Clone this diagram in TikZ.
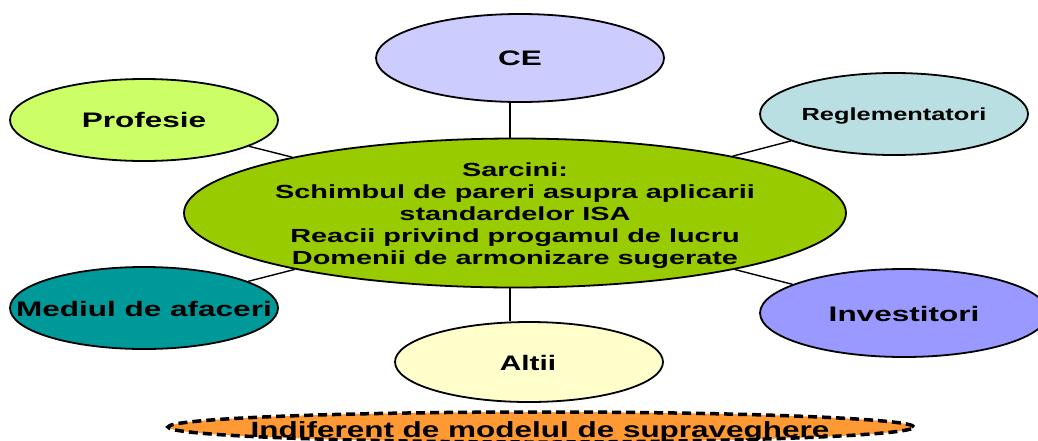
\documentclass[tikz,border=0pt]{standalone}
\usepackage{fontspec}
\setmainfont{Liberation Sans}
\usetikzlibrary{shapes.geometric}
\definecolor{ceC}{HTML}{CCCCFF}
\definecolor{profC}{HTML}{CCFF66}
\definecolor{reglC}{HTML}{B9DFE2}
\definecolor{centC}{HTML}{99CC00}
\definecolor{medC}{HTML}{009999}
\definecolor{invC}{HTML}{9999FF}
\definecolor{altC}{HTML}{FFFFCC}
\definecolor{indC}{HTML}{FF9933}
\newcommand{\hstr}[2][1.5]{\scalebox{#1}[1]{#2}}
\begin{document}
\begin{tikzpicture}[x=1pt,y=-1pt,
  bub/.style={ellipse, draw=black, line width=1.8pt, inner sep=0pt},
  lab/.style={inner sep=0pt, font=\fontsize{21}{24}\selectfont\bfseries},
  conn/.style={draw=black, line width=1.4pt}]
\useasboundingbox (0,0) rectangle (1038,440);
% ellipses
\node[bub, fill=ceC, minimum width=288, minimum height=88] (CE) at (520,58) {};
\node[bub, fill=profC, minimum width=268, minimum height=82] (prof) at (144,120) {};
\node[bub, fill=reglC, minimum width=268, minimum height=82] (regl) at (894,114) {};
\node[bub, fill=centC, minimum width=662, minimum height=149] (cent) at (515,213) {};
\node[bub, fill=medC, minimum width=268, minimum height=82] (med) at (144,308) {};
\node[bub, fill=invC, minimum width=288, minimum height=88] (inv) at (904,313) {};
\node[bub, fill=altC, minimum width=268, minimum height=80] (alt) at (529,362) {};
\node[bub, fill=indC, line width=3.5pt, dash pattern=on 9pt off 5pt, minimum width=746, minimum height=30] (ind) at (541,427) {};
% connectors
\draw[conn] ([xshift=-5pt]cent.north) -- ([xshift=-5pt]cent.north |- CE.south);
\draw[conn] ([xshift=-5pt]cent.south) -- ([xshift=-5pt]cent.south |- alt.north);
\draw[conn] (prof) -- (cent);
\draw[conn] (regl) -- (cent);
\draw[conn] (med) -- (cent);
\draw[conn] (inv) -- (cent);
% texts
\node[lab] (tCE) at (CE) {\hstr{CE}};
\node[lab] (tprof) at (prof) {\hstr{Profesie}};
\node[lab, font=\fontsize{17.5}{20}\selectfont\bfseries] (tregl) at (894,116) {\hstr[1.45]{Reglementatori}};
\node[lab] (tmed) at (144,309) {\hstr{Mediul de afaceri}};
\node[lab] (tinv) at (904,314) {\hstr{Investitori}};
\node[lab] (talt) at (528,363) {\hstr[1.42]{Altii}};
\node[lab, font=\fontsize{19}{22}\selectfont\bfseries] (tcent) at (515,216) {\hstr[1.52]{\begin{tabular}{@{}c@{}}Sarcini:\\Schimbul de pareri asupra aplicarii\\standardelor ISA\\Reacii privind progamul de lucru\\Domenii de armonizare sugerate\end{tabular}}};
\node[lab, anchor=base, font=\fontsize{22}{24}\selectfont\bfseries] (tind) at (540,437) {\hstr[1.43]{Indiferent de modelul de supraveghere}};
\end{tikzpicture}
\end{document}
